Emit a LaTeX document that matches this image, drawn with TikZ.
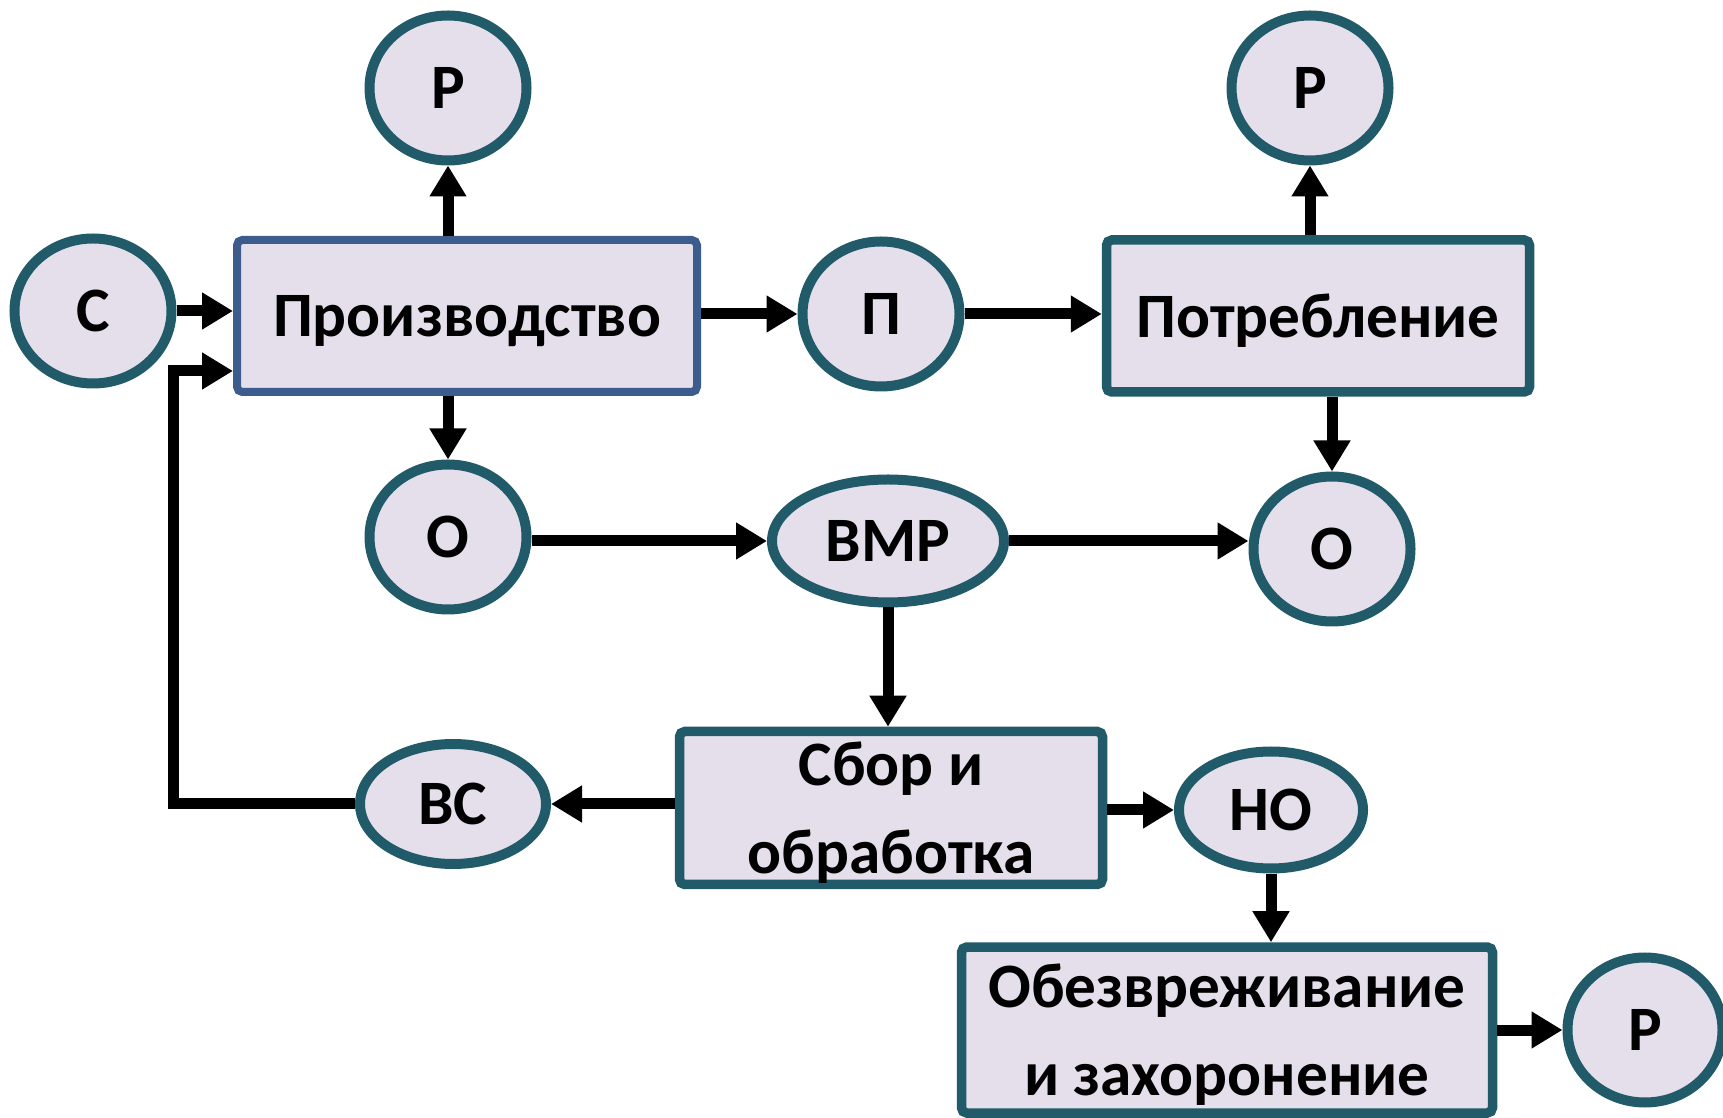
\documentclass[tikz,border=0pt]{standalone}
\usepackage{fontspec}
\setmainfont{Carlito}
\usetikzlibrary{arrows.meta,shapes.geometric}

\definecolor{boxfill}{RGB}{229,223,236}
\definecolor{tealline}{RGB}{33,90,105}
\definecolor{blueline}{RGB}{60,92,142}

\begin{document}
\begin{tikzpicture}[font=\fontsize{18}{25}\selectfont\bfseries,
  blob/.style={ellipse,draw=tealline,fill=boxfill,line width=0.1cm,inner sep=0pt,
    minimum width=1.57cm,minimum height=1.45cm},
  stage/.style={rectangle,draw=tealline,fill=boxfill,line width=0.095cm,inner sep=0pt,
    rounded corners=1.5pt,align=center,text depth=0pt,minimum height=1.52cm},
  flow/.style={-{Triangle[length=0.31cm,width=0.35cm]},line width=0.11cm}]
  \useasboundingbox (0,0) rectangle (17.23,-11.18);

  \node [stage,draw=blueline,line width=0.08cm,minimum width=4.6cm] (prod_box) at (4.67,-3.16) {Производство};
  \node [stage,minimum width=4.23cm] (cons_box) at (13.18,-3.16) {Потребление};
  \node [stage,minimum width=4.23cm,minimum height=1.53cm] (sbor_box) at (8.91,-8.08) {Сбор и\\обработка};
  \node [stage,minimum width=5.31cm,minimum height=1.66cm] (obez_box) at (12.27,-10.30) {Обезвреживание\\и захоронение};

  \node [blob] (c_in) at (0.93,-3.11) {С};
  \node [blob] (r_prod) at (4.48,-0.88) {Р};
  \node [blob] (p_mid) at (8.81,-3.14) {П};
  \node [blob] (r_cons) at (13.10,-0.88) {Р};
  \node [blob] (o_prod) at (4.48,-5.37) {О};
  \node [blob,minimum width=2.32cm,minimum height=1.23cm] (vmr) at (8.88,-5.41) {ВМР};
  \node [blob] (o_cons) at (13.32,-5.49) {О};
  \node [blob,minimum width=1.86cm,minimum height=1.20cm] (vs) at (4.53,-8.04) {ВС};
  \node [blob,minimum width=1.84cm,minimum height=1.17cm] (no) at (12.71,-8.10) {НО};
  \node [blob,minimum width=1.55cm] (r_obez) at (16.45,-10.30) {Р};

  \coordinate (fb) at (1.73,-3.71);

  \draw [flow] (c_in.east) -- (c_in.east -| prod_box.west);
  \draw [flow] (prod_box.north -| r_prod) -- (r_prod);
  \draw [flow] (prod_box.south -| o_prod) -- (o_prod);
  \draw [flow] (prod_box.east |- p_mid) -- (p_mid);
  \draw [flow] (p_mid) -- (cons_box.west |- p_mid);
  \draw [flow] (cons_box.north -| r_cons) -- (r_cons);
  \draw [flow] (cons_box.south -| o_cons) -- (o_cons);
  \draw [flow] (o_prod.east |- vmr.west) -- (vmr.west);
  \draw [flow] (vmr.east) -- (vmr.east -| o_cons.west);
  \draw [flow] (vmr) -- (vmr |- sbor_box.north);
  \draw [flow] (sbor_box.west |- vs) -- (vs);
  \draw [flow] (sbor_box.east |- no) -- (no);
  \draw [flow] (no) -- (no |- obez_box.north);
  \draw [flow] (obez_box.east |- r_obez) -- (r_obez);
  % return of secondary raw materials
  \draw [flow] (vs.west) -| (fb) -- (fb -| prod_box.west);
\end{tikzpicture}
\end{document}
